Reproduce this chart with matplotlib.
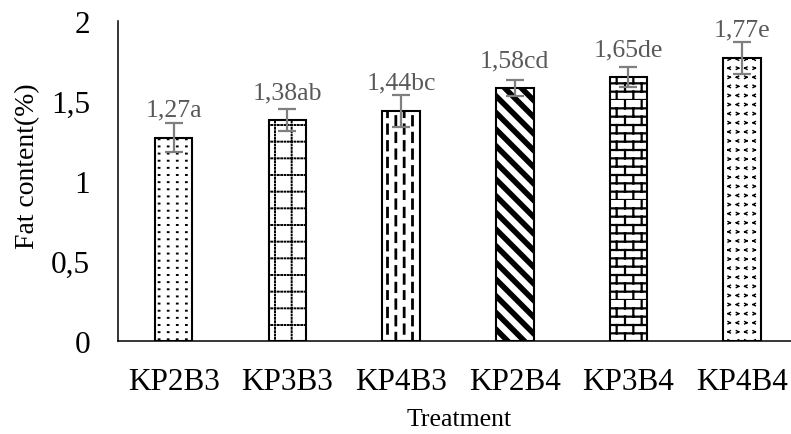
import warnings
warnings.filterwarnings("ignore")
import numpy as np
import matplotlib
matplotlib.use("Agg")
import matplotlib.pyplot as plt
import matplotlib.hatch as mhatch
from matplotlib.path import Path

# ---------------- data ----------------
categories = ["KP2B3", "KP3B3", "KP4B3", "KP2B4", "KP3B4", "KP4B4"]
fat_values = [1.27, 1.38, 1.44, 1.58, 1.65, 1.77]
fat_errors = [0.09, 0.07, 0.10, 0.05, 0.06, 0.10]
value_labels = ["1,27a", "1,38ab", "1,44bc", "1,58cd", "1,65de", "1,77e"]
y_ticks = [0, 0.5, 1, 1.5, 2]
y_ticklabels = ["0", "0,5", "1", "1,5", "2"]


# ---------------- custom hatch patterns ----------------
class _SegHatch(mhatch.HatchPatternBase):
    char = None

    def __init__(self, hatch, density):
        self.segs = self.make() if (self.char and self.char in hatch) else []
        self.num_vertices = 2 * len(self.segs)

    def set_vertices_and_codes(self, vertices, codes):
        for i, (x0, y0, x1, y1) in enumerate(self.segs):
            vertices[2 * i] = (x0, y0)
            vertices[2 * i + 1] = (x1, y1)
            codes[2 * i] = Path.MOVETO
            codes[2 * i + 1] = Path.LINETO


class DotsHatch(_SegHatch):          # sparse square dots
    char = "P"

    def make(self):
        s = []
        nx, ny = 11, 14
        for i in range(nx):
            for j in range(ny):
                x = (i + 0.5) / nx
                y = (j + 0.5) / ny
                s.append((x - 0.004, y, x + 0.004, y))
        return s


class DottedGridHatch(_SegHatch):    # dotted grid
    char = "D"

    def make(self):
        s = []
        n, nd = 6, 30
        for i in range(n):
            c = (i + 0.5) / n
            for k in range(nd):
                t = (k + 0.5) / nd
                s.append((c, t - 0.004, c, t + 0.004))
                s.append((t - 0.004, c, t + 0.004, c))
        return s


class DashedVertHatch(_SegHatch):    # dashed vertical lines
    char = "V"

    def make(self):
        s = []
        n, nd = 12, 6
        for i in range(n):
            x = (i + 0.5) / n
            off = 0.5 / nd if i % 2 else 0.0
            for k in range(nd):
                y0 = k / nd + off
                y1 = y0 + 0.085
                if y1 <= 1.0:
                    s.append((x, y0, x, y1))
                else:
                    s.append((x, y0, x, 1.0))
                    s.append((x, 0.0, x, y1 - 1.0))
        return s


class BrickHatch(_SegHatch):         # bricks
    char = "B"

    def make(self):
        s = []
        nr, nb = 12, 6
        for r in range(nr):
            y0 = r / nr
            y1 = (r + 1) / nr
            s.append((0.0, y0, 1.0, y0))
            off = 0.5 / nb if r % 2 else 0.0
            for b in range(nb):
                x = b / nb + off
                s.append((x, y0, x, y1))
        return s


class ChevronHatch(_SegHatch):       # small < > marks
    char = "K"

    def make(self):
        s = []
        nx, ny = 12, 11
        h, w = 0.012, 0.012
        for i in range(nx):
            for j in range(ny):
                x = (i + 0.5) / nx
                y = (j + 0.5) / ny
                if (i + j) % 2 == 0:   # '<'
                    s.append((x + w, y + h, x - w, y))
                    s.append((x - w, y, x + w, y - h))
                else:                  # '>'
                    s.append((x - w, y + h, x + w, y))
                    s.append((x + w, y, x - w, y - h))
        return s


mhatch._hatch_types.extend([DotsHatch, DottedGridHatch, DashedVertHatch,
                            BrickHatch, ChevronHatch])

hatches = ["P", "D", "V", "\\\\", "B", "K"]
hatch_lw = [1.4, 1.4, 2.0, 4.0, 1.6, 1.0]

# ---------------- figure ----------------
plt.rcParams["font.family"] = ["Liberation Serif", "DejaVu Serif"]
plt.rcParams["hatch.color"] = "black"
plt.rcParams["hatch.linewidth"] = 1.4

W, H = 791, 435
fig = plt.figure(figsize=(W / 100, H / 100), dpi=100)
ax = fig.add_axes([118 / W, 1 - 342 / H, 1 - 118 / W, (342 - 22) / H])

x = np.arange(len(categories))
bars = ax.bar(x, fat_values, width=0.33, color="white", edgecolor="black",
              linewidth=1.5, zorder=2)
for b, h, lw in zip(bars, hatches, hatch_lw):
    b.set_hatch(h)
    try:
        b.set_hatch_linewidth(lw)
    except Exception:
        pass

ax.errorbar(x, fat_values, yerr=fat_errors, fmt="none", ecolor="#7f7f7f",
            elinewidth=1.6, capsize=6.5, capthick=1.6, zorder=3)

for xi, v, lab in zip(x, fat_values, value_labels):
    ax.annotate(lab, (xi, v), xytext=(0, 15.8), textcoords="offset points",
                ha="center", va="baseline", fontsize=18.5, color="#595959")

ax.set_ylim(0, 2)
ax.set_xlim(-0.49, 5.43)
ax.set_yticks(y_ticks)
ax.set_yticklabels(y_ticklabels)
ax.set_xticks(x)
ax.set_xticklabels(categories)
ax.tick_params(axis="y", length=0, pad=20, labelsize=22.5)
ax.tick_params(axis="x", length=0, pad=19, labelsize=22.5)

for s in ["top", "right"]:
    ax.spines[s].set_visible(False)
for s in ["left", "bottom"]:
    ax.spines[s].set_color("black")
    ax.spines[s].set_linewidth(1.1)

fig.text(28 / W, 1 - 166 / H, "Fat content(%)", rotation=90, ha="center",
         va="center", fontsize=20)
fig.text(459 / W, 1 - 420 / H, "Treatment", ha="center", va="center",
         fontsize=18.5)

fig.savefig("out.png", dpi=100)
